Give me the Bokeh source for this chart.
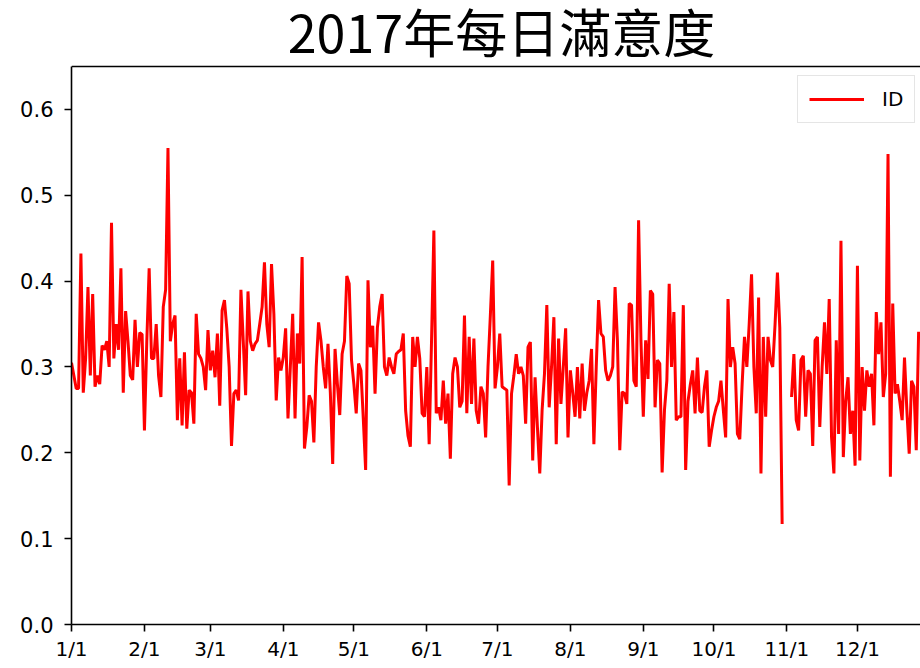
from bokeh.plotting import figure
from bokeh.models import FixedTicker, Legend, LegendItem, Range1d, Label, Span
from bokeh.embed import file_html
from bokeh.resources import INLINE

nan = float("nan")

# daily satisfaction values, one list per month
jan = [0.305, 0.29, 0.275, 0.275, 0.432, 0.27, 0.31, 0.393, 0.29, 0.385,
       0.277, 0.29, 0.28, 0.325, 0.32, 0.33, 0.30, 0.468, 0.31, 0.35,
       0.32, 0.415, 0.27, 0.365, 0.33, 0.29, 0.285, 0.355, 0.30, 0.34, 0.338]
feb = [0.226, 0.33, 0.415, 0.31, 0.31, 0.35, 0.29, 0.265, 0.37, 0.39,
       0.555, 0.33, 0.35, 0.36, 0.238, 0.31, 0.232, 0.317, 0.228, 0.273,
       0.27, 0.234, 0.362, 0.315, 0.31, 0.30, 0.273, 0.343]
mar = [0.296, 0.319, 0.288, 0.339, 0.255, 0.366, 0.378, 0.345, 0.30, 0.208,
       0.269, 0.273, 0.261, 0.39, 0.33, 0.267, 0.388, 0.33, 0.319, 0.327,
       0.331, 0.35, 0.37, 0.422, 0.35, 0.323, 0.42, 0.362, 0.261, 0.311, 0.296]
apr = [0.311, 0.345, 0.24, 0.30, 0.362, 0.24, 0.339, 0.304, 0.428, 0.205,
       0.23, 0.267, 0.26, 0.212, 0.30, 0.352, 0.331, 0.30, 0.275, 0.327,
       0.27, 0.187, 0.321, 0.28, 0.244, 0.315, 0.33, 0.406, 0.397, 0.308]
may = [0.28, 0.246, 0.304, 0.296, 0.24, 0.180, 0.401, 0.323, 0.348, 0.269,
       0.346, 0.37, 0.385, 0.30, 0.29, 0.311, 0.30, 0.292, 0.315, 0.318,
       0.32, 0.339, 0.249, 0.22, 0.207, 0.335, 0.30, 0.335, 0.31, 0.246, 0.242]
jun = [0.30, 0.210, 0.33, 0.459, 0.246, 0.253, 0.238, 0.284, 0.234, 0.269,
       0.193, 0.292, 0.311, 0.30, 0.253, 0.26, 0.36, 0.246, 0.335, 0.257,
       0.333, 0.249, 0.234, 0.277, 0.269, 0.218, 0.30, 0.36, 0.424, 0.275]
jul = [0.30, 0.339, 0.277, 0.275, 0.273, 0.162, 0.269, 0.29, 0.315, 0.292,
       0.300, 0.29, 0.234, 0.323, 0.329, 0.191, 0.288, 0.23, 0.176, 0.25,
       0.292, 0.372, 0.253, 0.30, 0.358, 0.210, 0.333, 0.257, 0.30, 0.345, 0.218]
aug = [0.296, 0.27, 0.242, 0.30, 0.240, 0.304, 0.249, 0.27, 0.284, 0.321,
       0.210, 0.30, 0.378, 0.339, 0.335, 0.296, 0.284, 0.29, 0.30, 0.393,
       0.331, 0.203, 0.271, 0.269, 0.257, 0.374, 0.372, 0.284, 0.277, 0.471, 0.331]
sep = [0.242, 0.331, 0.286, 0.389, 0.385, 0.253, 0.308, 0.304, 0.177, 0.25,
       0.284, 0.397, 0.300, 0.364, 0.238, 0.242, 0.242, 0.372, 0.180, 0.26,
       0.28, 0.296, 0.246, 0.311, 0.249, 0.247, 0.277, 0.296, 0.207, 0.226]
oct_ = [0.242, 0.253, 0.26, 0.284, 0.25, 0.218, 0.379, 0.300, 0.323, 0.304,
        0.222, 0.216, 0.28, 0.335, 0.300, 0.35, 0.408, 0.30, 0.246, 0.381,
        0.176, 0.335, 0.242, 0.335, 0.308, 0.30, 0.35, 0.410, 0.346, 0.117, nan]
nov = [nan, nan, 0.265, 0.315, 0.238, 0.226, 0.308, 0.313, 0.242, 0.296,
       0.292, 0.208, 0.331, 0.335, 0.230, 0.30, 0.352, 0.292, 0.379, 0.218,
       0.176, 0.331, 0.222, 0.447, 0.195, 0.26, 0.288, 0.222, 0.249, 0.185]
dec = [0.418, 0.191, 0.300, 0.249, 0.296, 0.277, 0.292, 0.232, 0.364, 0.315,
       0.352, 0.265, 0.292, 0.548, 0.172, 0.374, 0.269, 0.280, 0.26, 0.238,
       0.311, 0.25, 0.199, 0.284, 0.277, 0.203, 0.341]

month_starts = [0, 31, 59, 90, 120, 151, 181, 212, 243, 273, 304, 334]
month_labels = ["1/1", "2/1", "3/1", "4/1", "5/1", "6/1",
                "7/1", "8/1", "9/1", "10/1", "11/1", "12/1"]
y_ticks = [0.0, 0.1, 0.2, 0.3, 0.4, 0.5, 0.6]
y_min, y_max = 0.0, 0.65
series_name = "ID"
title_text = "2017年每日滿意度"

values = jan + feb + mar + apr + may + jun + jul + aug + sep + oct_ + nov + dec
days = list(range(len(values)))

# frame runs to the top of the canvas; the axes box ends at y_max and the
# title sits in the space above it
W, H, left, bottom, top_gap = 920, 668, 71, 44, 66
px_per_unit = (H - bottom - top_gap) / (y_max - y_min)
y_top = y_max + top_gap / px_per_unit

p = figure(width=W, height=H, output_backend="svg", toolbar_location=None,
           x_range=Range1d(0, 360.8), y_range=Range1d(y_min, y_top),
           min_border_left=left, min_border_right=0, min_border_top=0,
           min_border_bottom=bottom)
p.outline_line_color = None
p.background_fill_color = "white"
p.border_fill_color = "white"
p.xgrid.visible = False
p.ygrid.visible = False

r = p.line(days, values, line_color="red", line_width=3)

# top border of the axes box
p.add_layout(Span(location=y_max, dimension="width", line_color="black",
                  line_width=1.6))

title = Label(x=182.7, y=y_max + 36 / px_per_unit, text=title_text,
              text_align="center", text_baseline="middle",
              text_font="Noto Sans CJK TC", text_font_size="52px",
              text_color="black")
p.add_layout(title)

tick_font = "DejaVu Sans"
for ax in (p.xaxis[0], p.yaxis[0]):
    ax.axis_line_width = 1.6
    ax.axis_line_color = "black"
    ax.major_tick_out = 7
    ax.major_tick_in = 0
    ax.major_tick_line_width = 1.6
    ax.minor_tick_line_color = None
    ax.major_label_text_font = tick_font
    ax.major_label_text_color = "black"
p.xaxis[0].major_label_text_font_size = "20px"
p.xaxis[0].major_label_standoff = 5
p.yaxis[0].major_label_text_font_size = "21px"
p.yaxis[0].major_label_standoff = 11
p.yaxis[0].bounds = (y_min, y_max)

p.xaxis[0].ticker = FixedTicker(ticks=month_starts)
p.xaxis[0].major_label_overrides = {m: l for m, l in zip(month_starts, month_labels)}
p.yaxis[0].ticker = FixedTicker(ticks=y_ticks)
p.yaxis[0].major_label_overrides = {t: f"{t:.1f}" for t in y_ticks}

legend = Legend(items=[LegendItem(label=series_name, renderers=[r])],
                location=(726, 501))
legend.label_text_font = tick_font
legend.label_text_font_size = "20px"
legend.label_text_color = "black"
legend.glyph_width = 55
legend.label_standoff = 18
legend.padding = 11
legend.border_line_color = "#cccccc"
legend.border_line_width = 1.5
legend.background_fill_alpha = 1.0
p.add_layout(legend)

open("out.html", "w").write(file_html(p, INLINE))
